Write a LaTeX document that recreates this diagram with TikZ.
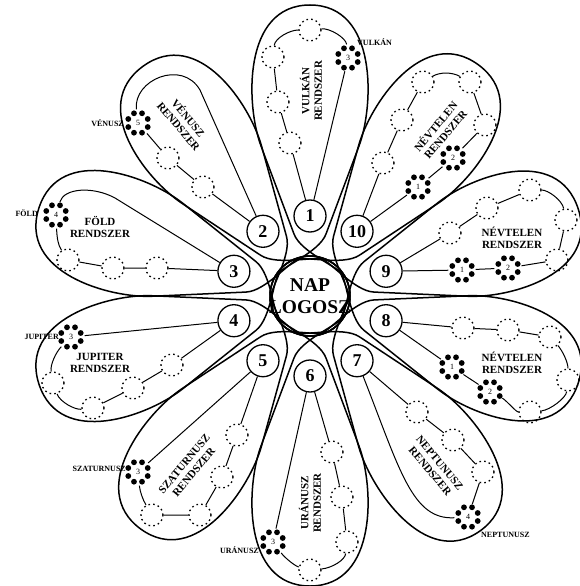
\documentclass[tikz,border=0pt]{standalone}
\usepackage{fontspec}
\setmainfont{Liberation Serif}
\newcommand{\petal}[3]{%
 \begin{scope}[shift={(310,296)}, rotate=#1]
  \draw[myoutl] (-108:40) arc[start angle=-108, end angle=-60, radius=40]
     .. controls (28.7,-29.6) and (43.3,9) .. (62,16) -- (150,49)
     .. controls (190,64) and (#2,68) .. (#2,0)
     .. controls (#2,-68) and (190,-64) .. (150,-49) -- (62,-16)
     .. controls (43.3,-9) and (28.7,29.6) .. (60:40)
     arc[start angle=60, end angle=108, radius=40];
  \node[mynum] (n#3) at (80,0) {#3};
 \end{scope}}
\newcommand{\chainat}[4]{%
  \node[mychain] (#1) at (#2,#3) {#4};
  \foreach \a in {22.5,67.5,...,337.5} \fill (#2,#3) ++(\a:10.5) circle (2.9);
}
\begin{document}
\begin{tikzpicture}[x=1pt,y=-1pt,
  myoutl/.style={line width=1.5pt, line join=round},
  myln/.style={line width=1pt},
  mydot/.style={circle, draw, dash pattern=on 1.6pt off 3.2pt, line width=1.3pt, minimum size=22pt, inner sep=0pt},
  mychain/.style={circle, minimum size=27pt, inner sep=0pt, font=\fontsize{8}{8}\selectfont},
  mynum/.style={circle, draw, fill=white, line width=1.3pt, minimum size=32pt, inner sep=0pt, font=\bfseries\fontsize{18}{18}\selectfont},
  mylab/.style={font=\bfseries\fontsize{11}{12.5}\selectfont, align=center, inner sep=0pt},
  myplab/.style={font=\bfseries\fontsize{8}{8}\selectfont, inner sep=0pt},
]
\useasboundingbox (0,0) rectangle (580,586);
\fill[white] (0,0) rectangle (580,586);

\petal{90}{291}{1}
\petal{126}{284}{2}
\petal{162}{285}{3}
\petal{198}{285}{4}
\petal{234}{288}{5}
\petal{270}{290}{6}
\petal{306}{290}{7}
\petal{342}{282}{8}
\petal{18}{282}{9}
\petal{54}{286}{10}

\node[font=\bfseries\fontsize{19.5}{22}\selectfont, align=center, inner sep=0pt] (sun) at (310,296) {NAP\\LOGOSZ};

% Petal 1 Vulkan
\node[mydot] (d1a) at (290,143) {};
\node[mydot] (d1b) at (278,102) {};
\node[mydot] (d1c) at (273,57) {};
\node[mydot] (d1d) at (310,30) {};
\chainat{c1}{348}{58}{3}
\draw[myln] (n1) -- (d1a) -- (d1b) -- (d1c);
\draw[myln] (d1c) .. controls (275,38) and (290,30) .. (d1d);
\draw[myln] (d1d) .. controls (330,28) and (346,38) .. (c1);
\draw[myln] (c1) -- (n1);
\node[mylab, rotate=90] at (311,91) {VULKÁN\\RENDSZER};
\node[myplab, anchor=west] at (357,42) {VULKÁN};

% Petal 2 Venusz
\node[mydot] (d2a) at (168,158) {};
\node[mydot] (d2b) at (203,187) {};
\chainat{c2}{138}{123}{5}
\coordinate (t2) at (200,90);
\draw[myln] (n2) -- (d2b) -- (d2a) -- (c2);
\draw[myln] (c2) .. controls (133,80) and (182,59) .. (t2) -- (n2);
\node[mylab, rotate=-50] at (184,122) {VÉNUSZ\\RENDSZER};
\node[myplab, anchor=east] at (124,123) {VÉNUSZ};

% Petal 3 Fold
\node[mydot] (d3a) at (68,260) {};
\node[mydot] (d3b) at (113,268) {};
\node[mydot] (d3c) at (157,268) {};
\chainat{c3}{56}{215}{4}
\coordinate (t3) at (115,198);
\draw[myln] (n3) -- (d3c) -- (d3b) -- (d3a);
\draw[myln] (d3a) .. controls (58,245) and (57,238) .. (c3);
\draw[myln] (c3) .. controls (64,188) and (93,186) .. (t3) -- (n3);
\node[mylab] at (100,227) {FÖLD\\RENDSZER};
\node[myplab, anchor=east] at (38,213) {FÖLD};

% Petal 4 Jupiter
\node[mydot] (d4a) at (172,365) {};
\node[mydot] (d4b) at (133,388) {};
\node[mydot] (d4c) at (93,408) {};
\node[mydot] (d4d) at (53,383) {};
\chainat{c4}{71}{337}{3}
\draw[myln] (n4) -- (c4);
\draw[myln] (n4) -- (d4a) -- (d4b) -- (d4c);
\draw[myln] (d4c) .. controls (75,410) and (60,402) .. (d4d);
\draw[myln] (d4d) .. controls (50,365) and (56,352) .. (c4);
\node[mylab] at (100,363) {JUPITER\\RENDSZER};
\node[myplab, anchor=east] at (59,337) {JUPITER};

% Petal 5 Szaturnusz
\node[mydot] (d5a) at (237,435) {};
\node[mydot] (d5b) at (222,477) {};
\node[mydot] (d5c) at (200,515) {};
\node[mydot] (d5d) at (152,515) {};
\chainat{c5}{138}{472}{3}
\draw[myln] (n5) -- (c5);
\draw[myln] (n5) -- (d5a) -- (d5b) -- (d5c) -- (d5d);
\draw[myln] (d5d) .. controls (143,500) and (140,492) .. (c5);
\node[mylab, rotate=50] at (189,468) {SZATURNUSZ\\RENDSZER};
\node[myplab, anchor=east] at (126,469) {SZATURNUSZ};

% Petal 6 Uranusz
\node[mydot] (d6a) at (332,452) {};
\node[mydot] (d6b) at (342,497) {};
\node[mydot] (d6c) at (347,542) {};
\node[mydot] (d6d) at (310,570) {};
\chainat{c6}{273}{542}{3}
\draw[myln] (n6) -- (c6);
\draw[myln] (n6) -- (d6a) -- (d6b) -- (d6c);
\draw[myln] (d6c) .. controls (345,560) and (332,568) .. (d6d);
\draw[myln] (d6d) .. controls (295,566) and (285,558) .. (c6);
\node[mylab, rotate=90] at (310,503) {URÁNUSZ\\RENDSZER};
\node[myplab, anchor=east] at (259,550) {URÁNUSZ};

% Petal 7 Neptunusz
\node[mydot] (d7a) at (417,412) {};
\node[mydot] (d7b) at (453,440) {};
\node[mydot] (d7c) at (483,472) {};
\chainat{c7}{468}{517}{4}
\draw[myln] (n7) -- (d7a) -- (d7b) -- (d7c) -- (c7);
\draw[myln] (n7) .. controls (400,470) and (412,520) .. (c7);
\node[mylab, rotate=-50] at (435,467) {NEPTUNUSZ\\RENDSZER};
\node[myplab, anchor=west] at (481,535) {NEPTUNUSZ};

% Petal 8 Nevtelen
\node[mydot] (d8a) at (463,328) {};
\node[mydot] (d8b) at (508,330) {};
\node[mydot] (d8c) at (550,337) {};
\node[mydot] (d8d) at (568,380) {};
\node[mydot] (d8e) at (530,412) {};
\chainat{c8a}{452}{367}{1}
\chainat{c8b}{490}{392}{2}
\draw[myln] (n8) -- (d8a) -- (d8b) -- (d8c);
\draw[myln] (d8c) .. controls (562,350) and (568,362) .. (d8d);
\draw[myln] (d8d) .. controls (566,398) and (550,410) .. (d8e);
\draw[myln] (d8e) .. controls (516,412) and (506,400) .. (c8b);
\draw[myln] (c8b) -- (c8a) -- (n8);
\node[mylab] at (512,363) {NÉVTELEN\\RENDSZER};

% Petal 9 Nevtelen
\chainat{c9a}{462}{270}{1}
\chainat{c9b}{508}{268}{2}
\node[mydot] (d9a) at (557,260) {};
\node[mydot] (d9b) at (566,220) {};
\node[mydot] (d9c) at (530,190) {};
\node[mydot] (d9d) at (487,208) {};
\node[mydot] (d9e) at (450,233) {};
\draw[myln] (n9) -- (c9a) -- (c9b) -- (d9a) -- (d9b);
\draw[myln] (d9b) .. controls (562,200) and (548,190) .. (d9c);
\draw[myln] (d9c) -- (d9d) -- (d9e) -- (n9);
\node[mylab] at (512,238) {NÉVTELEN\\RENDSZER};

% Petal 10 Nevtelen
\chainat{c10a}{418}{187}{1}
\chainat{c10b}{453}{158}{2}
\node[mydot] (d10a) at (383,163) {};
\node[mydot] (d10b) at (402,120) {};
\node[mydot] (d10c) at (423,82) {};
\node[mydot] (d10d) at (470,82) {};
\node[mydot] (d10e) at (485,125) {};
\draw[myln] (n10) -- (d10a) -- (d10b) -- (d10c);
\draw[myln] (d10c) .. controls (440,72) and (452,72) .. (d10d);
\draw[myln] (d10d) -- (d10e) -- (c10b) -- (c10a) -- (n10);
\node[mylab, rotate=50] at (440,130) {NÉVTELEN\\RENDSZER};
\end{tikzpicture}
\end{document}
